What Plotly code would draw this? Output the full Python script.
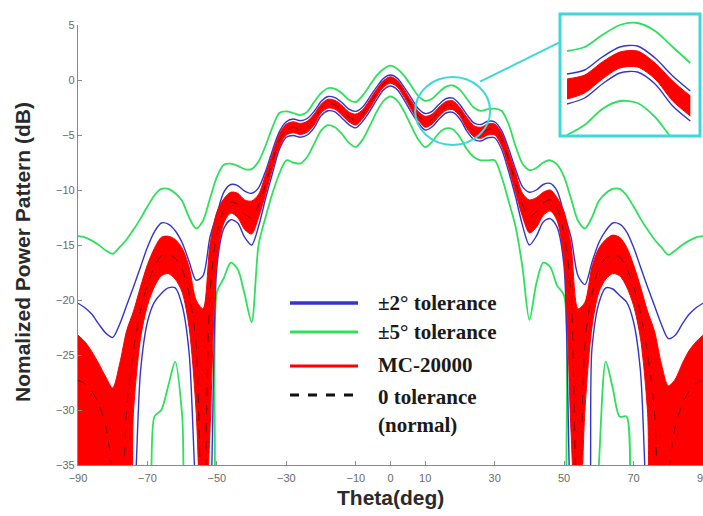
import plotly.graph_objects as go

# Observation angles (deg)
theta = [-90, -88, -86, -84, -82, -80, -78, -76, -74, -72, -70, -68, -66, -64, -62, -60,
         -58, -56, -54, -52, -50, -48, -46, -44, -42, -40, -38, -36, -34, -32, -30, -28,
         -26, -24, -22, -20, -18, -16, -14, -12, -10, -8, -6, -4, -2, 0,
         2, 4, 6, 8, 10, 12, 14, 16, 18, 20, 22, 24, 26, 28, 30, 32,
         34, 36, 38, 40, 42, 44, 46, 48, 50, 52, 54, 56, 58, 60, 62, 64,
         66, 68, 70, 72, 74, 76, 78, 80, 82, 84, 86, 88, 90]

# Nominal pattern, 0 tolerance (dB)
nominal = [-27.3, -27.6, -28.3, -29.5, -31.5, -36, -45, -30, -24.5, -21.0, -18.6, -17.0, -16.0, -15.9, -16.2, -17.2,
           -19.5, -24.0, -45, -19.5, -14.0, -11.8, -11.1, -11.3, -12.2, -12.5, -11.4, -9.5, -7.4, -5.5, -4.5, -4.3,
           -4.45, -4.25, -3.6, -2.6, -2.15, -2.25, -2.75, -3.35, -3.6, -3.1, -2.2, -1.2, -0.35, 0.0,
           -0.35, -1.25, -2.3, -3.25, -3.8, -3.55, -2.85, -2.35, -2.3, -2.9, -3.9, -4.65, -4.8, -4.5, -4.5, -5.4,
           -7.2, -9.3, -11.3, -12.4, -12.0, -11.2, -10.9, -11.7, -14.0, -19.5, -45, -24.0, -19.5, -17.2, -16.2, -15.9,
           -16.1, -17.1, -18.8, -21.2, -24.8, -30, -45, -36, -31.5, -29.5, -28.3, -27.6, -27.3]

# Monte Carlo envelope, 20000 runs (dB)
mc_upper = [-23.2, -23.8, -24.7, -25.8, -27.0, -28.0, -25.8, -22.8, -21.0, -18.8, -16.8, -15.3, -14.3, -14.2, -14.5, -15.3,
            -17.0, -20.0, -20.8, -15.0, -12.0, -10.8, -10.2, -10.3, -10.9, -11.0, -10.4, -8.6, -6.7, -4.9, -4.0, -3.8,
            -3.95, -3.75, -3.1, -2.2, -1.75, -1.85, -2.3, -2.9, -3.1, -2.7, -1.8, -0.85, -0.05, 0.3,
            -0.05, -0.9, -1.9, -2.85, -3.3, -3.1, -2.45, -1.95, -1.9, -2.5, -3.4, -4.15, -4.3, -4.0, -4.0, -4.8,
            -6.5, -8.4, -10.3, -10.9, -10.7, -10.2, -10.0, -10.7, -12.0, -15.0, -20.8, -20.2, -17.0, -15.3, -14.5, -14.1,
            -14.3, -15.2, -16.8, -18.8, -21.0, -22.8, -25.8, -27.8, -27.2, -25.8, -24.6, -23.8, -23.2]
mc_lower = [-45, -45, -45, -45, -45, -45, -45, -45, -30, -23.5, -20.5, -18.8, -17.8, -17.6, -18.1, -19.3,
            -22.5, -30, -45, -32, -16.5, -13.0, -12.1, -12.5, -13.6, -14.0, -12.5, -10.4, -8.1, -6.1, -5.0, -4.8,
            -4.95, -4.75, -4.1, -3.0, -2.55, -2.65, -3.2, -3.8, -4.1, -3.5, -2.6, -1.55, -0.65, -0.3,
            -0.65, -1.6, -2.7, -3.65, -4.3, -4.0, -3.3, -2.75, -2.7, -3.3, -4.4, -5.15, -5.3, -5.0, -5.0, -6.0,
            -7.9, -10.2, -12.4, -13.9, -13.4, -12.3, -11.9, -12.8, -16.5, -32, -45, -30, -22.5, -19.3, -18.1, -17.6,
            -17.8, -18.8, -20.5, -23.5, -30, -45, -45, -45, -45, -45, -45, -45, -45]

# +/-2 deg tolerance bounds (dB)
tol2_upper = [-20.3, -20.7, -21.3, -22.2, -23.0, -23.4, -22.2, -20.5, -18.8, -17.0, -15.2, -13.8, -13.0, -13.1, -13.7, -14.8,
              -16.5, -18.2, -17.8, -14.3, -12.2, -10.2, -9.5, -9.6, -10.1, -10.3, -9.8, -8.3, -6.4, -4.7, -3.8, -3.55,
              -3.7, -3.5, -2.85, -1.95, -1.5, -1.6, -2.05, -2.65, -2.85, -2.45, -1.55, -0.65, 0.15, 0.45,
              0.15, -0.7, -1.65, -2.6, -3.05, -2.85, -2.2, -1.7, -1.65, -2.25, -3.15, -3.9, -4.05, -3.75, -3.8, -4.6,
              -6.2, -8.1, -9.7, -10.2, -10.0, -9.5, -9.4, -10.1, -12.2, -14.3, -17.8, -18.6, -16.6, -14.8, -13.7, -13.0,
              -13.1, -13.8, -15.2, -17.0, -18.8, -20.5, -22.2, -23.5, -23.2, -22.2, -21.3, -20.7, -20.3]
tol2_lower = [-45, -45, -45, -45, -45, -45, -45, -45, -40, -26.5, -22.0, -20.2, -19.4, -18.9, -18.9, -20.5,
              -24.8, -38, -45, -40, -17.0, -13.5, -12.7, -13.0, -14.3, -15.0, -13.3, -10.8, -8.5, -6.3, -5.2, -5.05,
              -5.2, -5.0, -4.35, -3.25, -2.8, -2.9, -3.45, -4.05, -4.35, -3.75, -2.85, -1.8, -0.9, -0.55,
              -0.9, -1.85, -2.95, -3.9, -4.55, -4.25, -3.55, -3.0, -2.95, -3.55, -4.65, -5.4, -5.55, -5.25, -5.25, -6.3,
              -8.3, -10.6, -13.2, -15.0, -14.2, -12.9, -12.6, -13.4, -17.0, -40, -45, -45, -24.5, -20.3, -18.9, -19.0,
              -19.6, -20.2, -22.0, -26.5, -40, -45, -45, -45, -45, -45, -45, -45, -45]

# +/-5 deg tolerance bounds (dB)
tol5_upper = [-14.2, -14.3, -14.6, -15.0, -15.5, -15.8, -15.2, -14.5, -13.6, -12.6, -11.5, -10.5, -9.9, -9.9, -10.3, -11.0,
              -12.5, -13.5, -12.8, -10.8, -8.8, -7.7, -7.6, -7.8, -8.1, -8.1, -7.4, -6.0, -4.3, -3.0, -2.85, -3.0,
              -3.2, -2.9, -2.0, -1.2, -0.75, -0.8, -1.2, -1.8, -2.0, -1.4, -0.5, 0.4, 1.0, 1.3,
              1.0, 0.35, -0.55, -1.45, -1.9, -1.7, -1.1, -0.6, -0.5, -0.9, -1.7, -2.5, -2.8, -2.65, -2.6, -2.8,
              -4.0, -6.0, -7.6, -8.2, -8.0, -7.5, -7.3, -7.7, -8.8, -10.8, -12.8, -13.5, -12.5, -11.0, -10.3, -9.9,
              -9.9, -10.5, -11.5, -12.6, -13.6, -14.5, -15.2, -15.9, -15.5, -15.0, -14.6, -14.3, -14.2]
tol5_lower = [-45, -45, -45, -45, -45, -45, -45, -45, -45, -45, -45, -30.6, -30.0, -27.8, -25.6, -30.5,
              -45, -45, -45, -45, -19.3, -18.0, -16.6, -17.2, -19.5, -22.0, -15.0, -12.5, -10.3, -8.5, -7.3, -7.5,
              -7.6, -7.0, -5.8, -4.6, -4.1, -4.3, -4.9, -5.7, -6.1, -5.4, -4.2, -2.9, -1.9, -1.5,
              -1.9, -2.9, -4.2, -5.4, -6.1, -5.6, -4.8, -4.4, -4.5, -5.2, -6.3, -7.0, -7.3, -7.3, -7.3, -8.8,
              -11.0, -13.3, -17.0, -21.8, -18.5, -16.6, -17.0, -18.7, -19.6, -45, -45, -45, -45, -35, -25.6, -28.0,
              -30.6, -30.6, -45, -45, -45, -45, -45, -45, -45, -45, -45, -45, -45]

x_ticks = [-90, -70, -50, -30, -10, 0, 10, 30, 50, 70, 90]
y_ticks = [-35, -30, -25, -20, -15, -10, -5, 0, 5]
legend_labels = ["\u00b12\u00b0 tolerance", "\u00b15\u00b0 tolerance", "MC-20000", "0 tolerance", "(normal)"]

# Angular window shown magnified in the inset
zoom_lo, zoom_hi = 10, 24

BLUE = "#3434cc"
GREEN = "#2fe05c"
RED = "#ff0000"
CYAN = "#3fd8d8"
SMOOTH = 0.8


def curve(x, y, color, width, xa="x", ya="y", dash=None, fill=None, fillcolor=None):
    return go.Scatter(x=x, y=y, mode="lines", xaxis=xa, yaxis=ya,
                      line=dict(color=color, width=width, shape="spline", smoothing=SMOOTH, dash=dash),
                      fill=fill, fillcolor=fillcolor, showlegend=False, hoverinfo="skip")


def pattern_traces(x, sel, xa, ya, with_nominal):
    pick = lambda arr: [arr[i] for i in sel]
    xs = pick(x)
    out = [
        curve(xs, pick(tol5_upper), GREEN, 1.8, xa, ya),
        curve(xs, pick(tol5_lower), GREEN, 1.8, xa, ya),
        curve(xs, pick(tol2_upper), BLUE, 1.4, xa, ya),
        curve(xs, pick(tol2_lower), BLUE, 1.4, xa, ya),
        curve(xs, pick(mc_lower), RED, 1, xa, ya),
        curve(xs, pick(mc_upper), RED, 1, xa, ya, fill="tonexty", fillcolor=RED),
    ]
    if with_nominal:
        out.append(curve(xs, pick(nominal), "#7a0000", 1.0, xa, ya, dash="dash"))
    return out


fig = go.Figure()
all_idx = list(range(len(theta)))
zoom_idx = [i for i, t in enumerate(theta) if zoom_lo <= t <= zoom_hi]
for tr in pattern_traces(theta, all_idx, "x", "y", True):
    fig.add_trace(tr)
for tr in pattern_traces(theta, zoom_idx, "x2", "y2", False):
    fig.add_trace(tr)

W, H = 703, 516
ML, MR, MT, MB = 78, 0, 10, 51
PW, PH = W - ML - MR, H - MT - MB


def px(xp):
    return (xp - ML) / PW


def py(yp):
    return (H - MB - yp) / PH


axis_style = dict(showline=True, linecolor="#8a8a8a", linewidth=1.2, ticks="inside", ticklen=4,
                  tickcolor="#8a8a8a", showgrid=False, zeroline=False, automargin=False,
                  ticklabeloverflow="allow",
                  tickfont=dict(family="Liberation Sans, Arial", size=11, color="#6a6a6a"))

fig.update_layout(
    width=W, height=H,
    margin=dict(l=ML, r=MR, t=MT, b=MB, autoexpand=False),
    paper_bgcolor="white", plot_bgcolor="white",
    xaxis=dict(range=[-90, 90], tickvals=x_ticks, domain=[0, 1], anchor="y", ticklabelstandoff=3, **axis_style),
    yaxis=dict(range=[-35, 5], tickvals=y_ticks, domain=[0, py(25)], anchor="x", **axis_style),
    xaxis2=dict(range=[9.2, 25.1], domain=[px(560), px(700)], anchor="y2", visible=False),
    yaxis2=dict(range=[-6.15, -0.05], domain=[py(136), py(14)], anchor="x2", visible=False),
)

shapes = [
    # inset frame
    dict(type="rect", xref="paper", yref="paper", x0=px(560), x1=px(700), y0=py(136), y1=py(14),
         line=dict(color=CYAN, width=3)),
    # highlighted region and its pointer
    dict(type="circle", xref="x", yref="y", x0=7.1, x1=28.7, y0=-5.9, y1=0.27,
         line=dict(color=CYAN, width=2)),
    dict(type="line", xref="x", yref="y", x0=25.8, y0=-0.15, x1=48.8, y1=3.45,
         line=dict(color=CYAN, width=2)),
]

# legend swatches
swatch_rows = [(303, BLUE, 3.5, None), (332, GREEN, 3, None), (366, RED, 3, None), (395, "#111111", 3, "dash")]
for yp, col, w, dash in swatch_rows:
    shapes.append(dict(type="line", xref="paper", yref="paper", x0=px(290), x1=px(358), y0=py(yp), y1=py(yp),
                       line=dict(color=col, width=w, dash=dash)))
fig.update_layout(shapes=shapes)

annotations = []
for label, yp in zip(legend_labels, [303, 332, 365, 397, 425]):
    annotations.append(dict(text="<b>" + label + "</b>", xref="paper", yref="paper", x=px(376), y=py(yp),
                            xanchor="left", yanchor="middle", showarrow=False,
                            font=dict(family="Liberation Serif, Times New Roman", size=21, color="#1a1a1a")))
annotations.append(dict(text="<b>Theta(deg)</b>", xref="paper", yref="paper", x=px(390), y=py(497),
                        xanchor="center", yanchor="middle", showarrow=False,
                        font=dict(family="Liberation Sans, Arial", size=21, color="#2a2a2a")))
annotations.append(dict(text="<b>Nomalized Power Pattern (dB)</b>", xref="paper", yref="paper",
                        x=px(22), y=py(252), xanchor="center", yanchor="middle", textangle=-90,
                        showarrow=False, font=dict(family="Liberation Sans, Arial", size=21, color="#2a2a2a")))
fig.update_layout(annotations=annotations)

fig.write_html("out.html")
